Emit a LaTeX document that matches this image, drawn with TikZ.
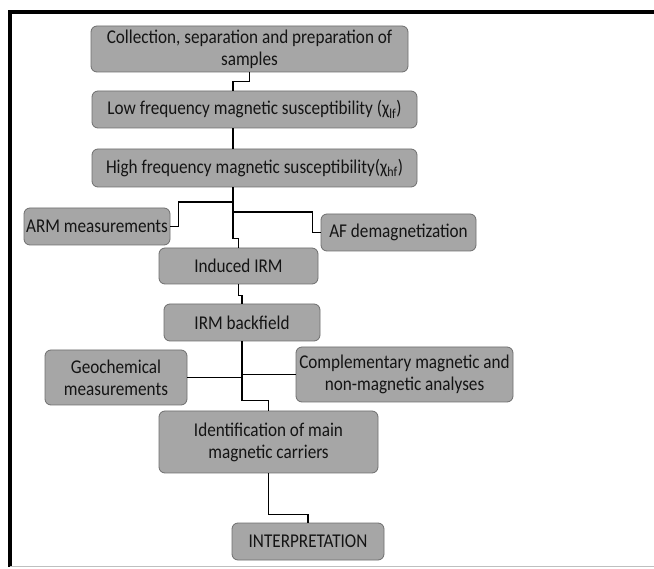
\documentclass[tikz,border=0pt]{standalone}
\usepackage{fontspec}
\setmainfont[FakeStretch=0.88]{Carlito}
\usepackage{xcolor}
\usepackage{tikz}
\definecolor{boxfill}{RGB}{166,166,166}
\definecolor{boxline}{RGB}{110,110,110}
\definecolor{ink}{RGB}{20,20,20}

\begin{document}
\begin{tikzpicture}[x=1pt, y=-1pt,
  stage/.style={draw=boxline, fill=boxfill, rounded corners=6pt, line width=0.8pt, text=ink, align=center, font=\fontsize{19.5}{22}\selectfont, inner sep=2pt},
  link/.style={line width=1.5pt, black}]
\useasboundingbox (0,0) rectangle (654,569);
\draw[line width=4pt] (10,567) -- (10,12) -- (654,12);
\draw[gray!50, line width=1pt] (10,566) -- (654,566);
\node[stage, minimum width=317pt, minimum height=46pt] (Collect) at (249.5,49) {Collection, separation and preparation of\\samples};
\node[stage, minimum width=325pt, minimum height=37pt] (LowFreq) at (254.5,109.5) {Low frequency magnetic susceptibility (χ\textsubscript{lf})};
\node[stage, minimum width=325pt, minimum height=38pt] (HighFreq) at (254.5,168) {High frequency magnetic susceptibility(χ\textsubscript{hf})};
\node[stage, minimum width=146pt, minimum height=37pt] (ARM) at (97,226.5) {ARM measurements};
\node[stage, minimum width=155pt, minimum height=37pt] (AFdemag) at (398.5,232.5) {AF demagnetization};
\node[stage, minimum width=159pt, minimum height=36pt] (IndIRM) at (238.5,266) {Induced IRM};
\node[stage, minimum width=156pt, minimum height=37pt] (BackIRM) at (242,322.5) {IRM backfield};
\node[stage, minimum width=142pt, minimum height=55pt] (Geochem) at (116,377.5) {Geochemical\\measurements};
\node[stage, minimum width=217pt, minimum height=55pt] (Compl) at (404.5,374.5) {Complementary magnetic and\\non-magnetic analyses};
\node[stage, minimum width=219pt, minimum height=62pt] (Ident) at (268.5,442) {Identification of main\\magnetic carriers};
\node[stage, minimum width=152pt, minimum height=37pt] (Interp) at (308,541.5) {INTERPRETATION};
\coordinate (SplitA) at (233,202);
\coordinate (SplitB) at (233,212);
\draw[link] (Collect.south) -- ++(0,9) -| ([xshift=-21.5pt]LowFreq.north);
\draw[link] ([xshift=-21.5pt]LowFreq.south) -- ([xshift=-21.5pt]HighFreq.north);
\draw[link] (HighFreq.south -| SplitA) -- (SplitA) -| ([xshift=8pt]ARM.east) -- (ARM.east);
\draw[link] (SplitB) -| ([xshift=-8pt]AFdemag.west) -- (AFdemag.west);
\draw[link] (HighFreq.south -| SplitA) -- ++(0,51) -| (IndIRM.north);
\draw[link] (IndIRM.south) -- ++(0,11) -| (BackIRM.north);
\draw[link] (Geochem.east) -- (Geochem.east -| BackIRM.south);
\draw[link] (Compl.west) -- (Compl.west -| BackIRM.south);
\draw[link] (BackIRM.south) -- ++(0,59) -| (Ident.north);
\draw[link] (Ident.south) -- ++(0,41) -| (Interp.north);
\end{tikzpicture}
\end{document}
